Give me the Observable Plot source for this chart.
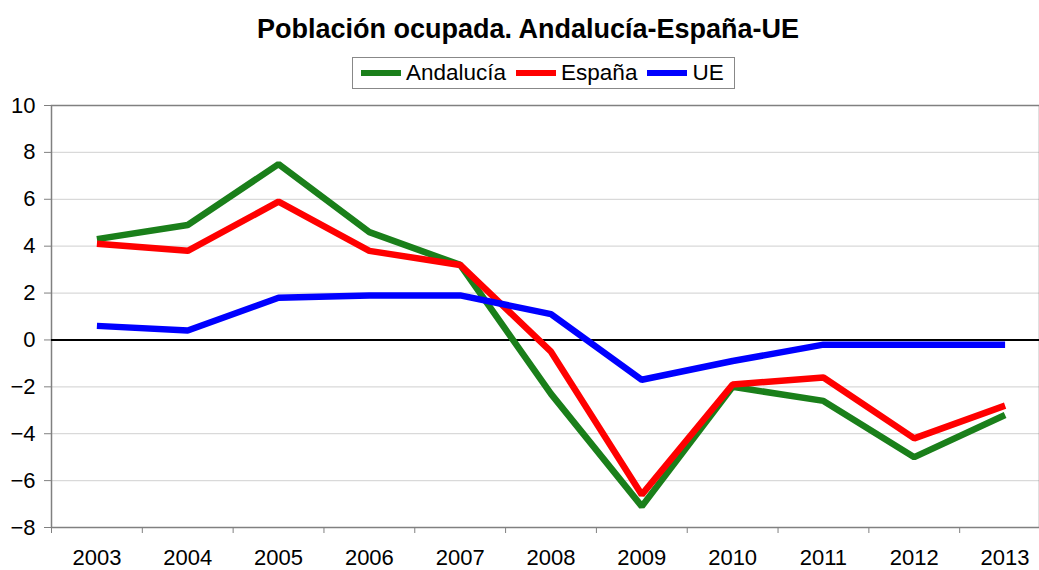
<!DOCTYPE html>
<html>
<head>
<meta charset="utf-8">
<script src="https://cdn.jsdelivr.net/npm/d3@7"></script>
<script src="https://cdn.jsdelivr.net/npm/@observablehq/plot@0.6"></script>
<style>
  html, body { margin: 0; padding: 0; background: #fff; }
  body { width: 1039px; height: 570px; position: relative; overflow: hidden; font-family: "Liberation Sans", Arial, sans-serif; }
  #title { position: absolute; left: 0; top: 13px; width: 1056px; text-align: center; font-size: 27px; line-height: 32px; font-weight: bold; color: #000; }
  #legend { position: absolute; left: 352px; top: 57px; width: 381px; height: 30px; border: 1px solid #888; box-sizing: content-box;
            display: flex; align-items: center; font-size: 22.5px; color: #000; }
  .item { display: flex; align-items: center; margin-left: 8px; margin-right: 2px; }
  .sw { display: inline-block; width: 40px; height: 6px; margin-right: 5px; }
  #chart { position: absolute; left: 0; top: 95px; }
</style>
</head>
<body>
<div id="title">Población ocupada. Andalucía-España-UE</div>
<div id="legend"></div>
<div id="chart"></div>
<script>
const years = [2003, 2004, 2005, 2006, 2007, 2008, 2009, 2010, 2011, 2012, 2013];
const andalucia = [4.3, 4.9, 7.5, 4.6, 3.2, -2.3, -7.1, -2.0, -2.6, -5.0, -3.2];
const espana    = [4.1, 3.8, 5.9, 3.8, 3.2, -0.5, -6.6, -1.9, -1.6, -4.2, -2.8];
const ue        = [0.6, 0.4, 1.8, 1.9, 1.9, 1.1, -1.7, -0.9, -0.2, -0.2, -0.2];
const seriesNames = ["Andalucía", "España", "UE"];
const seriesColors = ["#1a7f1a", "#ff0000", "#0000ff"];
const yTicks = [-8, -6, -4, -2, 0, 2, 4, 6, 8, 10];

const seriesValues = [andalucia, espana, ue];
const data = [];
seriesNames.forEach((name, s) => {
  years.forEach((yr, i) => data.push({serie: name, year: yr, value: seriesValues[s][i]}));
});
const boundaries = years.map(y => y - 0.5).concat([years[years.length - 1] + 0.5]);

// legend
const legend = document.getElementById("legend");
seriesNames.forEach((name, i) => {
  const it = document.createElement("div");
  it.className = "item";
  const sw = document.createElement("span");
  sw.className = "sw";
  sw.style.background = seriesColors[i];
  it.appendChild(sw);
  const t = document.createElement("span");
  t.textContent = name;
  it.appendChild(t);
  legend.appendChild(it);
});

const chart = Plot.plot({
  width: 1039,
  height: 475,
  marginTop: 10,
  marginBottom: 43,
  marginLeft: 51,
  marginRight: 0,
  style: { fontFamily: "Liberation Sans, Arial, sans-serif", fontSize: "22px", color: "#000", background: "#fff", overflow: "visible" },
  x: { domain: [boundaries[0], boundaries[boundaries.length - 1]], range: [51, 1050], axis: null, label: null },
  y: { domain: [-8, 10], axis: null, label: null },
  color: { domain: seriesNames, range: seriesColors },
  marks: [
    Plot.gridY(yTicks, { stroke: "#d9d9d9", strokeOpacity: 1, strokeWidth: 1.2 }),
    Plot.frame({ stroke: "#808080", strokeWidth: 1.5 }),
    Plot.ruleY([0], { stroke: "#000", strokeWidth: 2 }),
    Plot.axisY({ ticks: yTicks, tickSize: 7, tickPadding: 9, stroke: "#808080", fill: "#000", fontSize: 22, label: null }),
    Plot.axisX({ ticks: boundaries, tickSize: 6, tickFormat: () => "", stroke: "#808080", label: null }),
    Plot.axisX({ ticks: years, tickSize: 0, tickPadding: 22, tickFormat: d => String(d), fill: "#000", fontSize: 22, label: null }),
    Plot.line(data, { x: "year", y: "value", z: "serie", stroke: "serie", strokeWidth: 6.5, strokeLinejoin: "miter", strokeLinecap: "butt" })
  ]
});
document.getElementById("chart").appendChild(chart);
</script>
</body>
</html>
